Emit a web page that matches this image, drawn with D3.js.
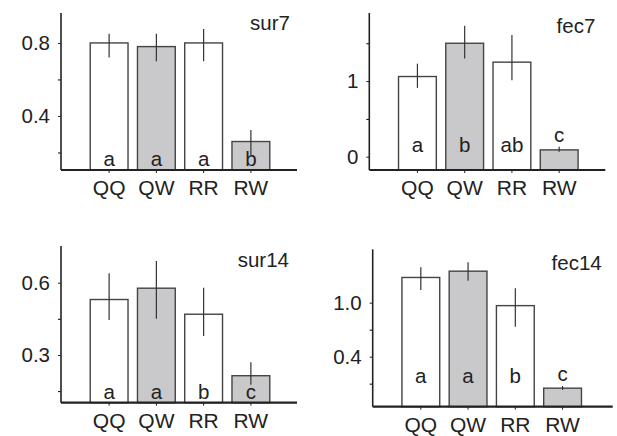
<html>
<head>
<script src="https://d3js.org/d3.v7.min.js"></script>
<style>
  body {margin:0; background:#fff; font-family:"Liberation Sans", Arial, sans-serif;}
  text {fill:#222;}
</style>
</head>
<body>
<script>
// genotype groups, same in every panel
var groups = ["QQ", "QW", "RR", "RW"]
var fills = ["#ffffff", "#c9c9cb", "#ffffff", "#c9c9cb"]

// panel names
var names = ["sur7", "fec7", "sur14", "fec14"]

// bar heights (means)
var sur7 = [0.80, 0.78, 0.80, 0.26]
var fec7 = [1.06, 1.50, 1.25, 0.09]
var sur14 = [0.53, 0.577, 0.469, 0.214]
var fec14 = [1.28, 1.35, 0.967, 0.05]

// error bar ends [low, high]
var sur7Err = [[0.72, 0.85], [0.70, 0.85], [0.70, 0.877], [0.186, 0.323]]
var fec7Err = [[0.91, 1.23], [1.30, 1.73], [1.01, 1.61], [0.066, 0.13]]
var sur14Err = [[0.445, 0.639], [0.45, 0.69], [0.379, 0.579], [0.176, 0.27]]
var fec14Err = [[1.141, 1.393], [1.244, 1.449], [0.733, 1.16], [0.03, 0.074]]

// significance letters
var sur7Sig = ["a", "a", "a", "b"]
var fec7Sig = ["a", "b", "ab", "c"]
var sur14Sig = ["a", "a", "b", "c"]
var fec14Sig = ["a", "a", "b", "c"]

// y ticks: labelled and small unlabelled ones
var sur7Ticks = [0.4, 0.8], sur7Minor = [0.2, 0.6]
var fec7Ticks = [0, 1], fec7Minor = [0.5, 1.5]
var sur14Ticks = [0.3, 0.6], sur14Minor = [0.15, 0.45]
var fec14Ticks = [0.4, 1.0], fec14Minor = [0.1, 0.7]
var tickFmt = [d3.format(".1f"), d3.format("d"), d3.format(".1f"), d3.format(".1f")]

var vals = [sur7, fec7, sur14, fec14]
var errs = [sur7Err, fec7Err, sur14Err, fec14Err]
var sigs = [sur7Sig, fec7Sig, sur14Sig, fec14Sig]
var ticks = [sur7Ticks, fec7Ticks, sur14Ticks, fec14Ticks]
var minor = [sur7Minor, fec7Minor, sur14Minor, fec14Minor]

// y axis ranges of each panel
var domains = [[0.104, 0.964], [-0.176, 1.9], [0.102, 0.752], [-0.156, 1.593]]

// layout: axis corner (x, baseline), top of y axis, right end of x axis
var layout = [
  {x: 61, base: 170, top: 13, right: 236, titleX: 229, titleY: -140, sigAbove: false, sigY: -4},
  {x: 369.3, base: 170, top: 13, right: 236, titleX: 226, titleY: -137, sigAbove: true, sigY: -18},
  {x: 61, base: 402.7, top: 246, right: 236, titleX: 228, titleY: -136, sigAbove: false, sigY: -4},
  {x: 372.7, base: 406.7, top: 249.3, right: 240, titleX: 229, titleY: -137, sigAbove: true, sigY: -24}
]

var width = 617, height = 436
var svg = d3.select("body").append("svg")
    .attr("width", width)
    .attr("height", height)

var fs = 20.5

names.forEach(function(name, i) {
  var L = layout[i]
  var g = svg.append("g").attr("transform", "translate(" + L.x + "," + L.base + ")")

  var x = d3.scaleBand().domain(groups).range([24.5, 213.5])
      .paddingInner(0.2).paddingOuter(0.1)
  var y = d3.scaleLinear().domain(domains[i]).range([0, L.top - L.base])

  var data = groups.map(function(gr, j) {
    return {g: gr, v: vals[i][j], lo: errs[i][j][0], hi: errs[i][j][1], s: sigs[i][j], f: fills[j]}
  })

  // bars
  g.selectAll("rect").data(data).enter().append("rect")
      .attr("x", function(d) { return x(d.g) })
      .attr("width", x.bandwidth())
      .attr("y", function(d) { return y(d.v) })
      .attr("height", function(d) { return -y(d.v) })
      .style("fill", function(d) { return d.f })
      .style("stroke", "#444")
      .style("stroke-width", 1.4)

  // error bars
  g.selectAll("line.err").data(data).enter().append("line")
      .attr("class", "err")
      .attr("x1", function(d) { return x(d.g) + x.bandwidth() / 2 })
      .attr("x2", function(d) { return x(d.g) + x.bandwidth() / 2 })
      .attr("y1", function(d) { return y(d.lo) })
      .attr("y2", function(d) { return y(d.hi) })
      .style("stroke", "#333")
      .style("stroke-width", 1.2)

  // letters
  g.selectAll("text.sig").data(data).enter().append("text")
      .attr("class", "sig")
      .attr("x", function(d) { return x(d.g) + x.bandwidth() / 2 })
      .attr("y", function(d, j) {
        if (L.sigAbove && j == 3) return y(d.hi) - 5
        return L.sigY
      })
      .attr("text-anchor", "middle")
      .style("font-size", fs + "px")
      .text(function(d) { return d.s })

  // y axis
  var yAxis = g.append("g").call(d3.axisLeft(y).tickValues(ticks[i]).tickSize(3).tickPadding(8).tickFormat(tickFmt[i]))
  yAxis.select(".domain").remove()
  yAxis.selectAll("text").style("font-size", fs + "px").style("fill", "#222")
  yAxis.selectAll("line").style("stroke", "#222")
  g.append("g").call(d3.axisLeft(y).tickValues(minor[i]).tickSize(3).tickFormat(""))
    .select(".domain").remove()
  g.append("line").attr("x1", 0).attr("x2", 0).attr("y1", 0).attr("y2", L.top - L.base)
      .style("stroke", "#222").style("stroke-width", 1.6)

  // x axis
  var xAxis = g.append("g").call(d3.axisBottom(x).tickSize(3).tickPadding(7))
  xAxis.select(".domain").remove()
  xAxis.selectAll("text").style("font-size", "21px").style("fill", "#222")
  xAxis.selectAll("line").style("stroke", "#222")
  g.append("line").attr("x1", 0).attr("x2", L.right).attr("y1", 0).attr("y2", 0)
      .style("stroke", "#222").style("stroke-width", 2.2)

  // panel name
  g.append("text").attr("x", L.titleX).attr("y", L.titleY)
      .attr("text-anchor", "end")
      .style("font-size", fs + "px")
      .text(name)
})
</script>
</body>
</html>
